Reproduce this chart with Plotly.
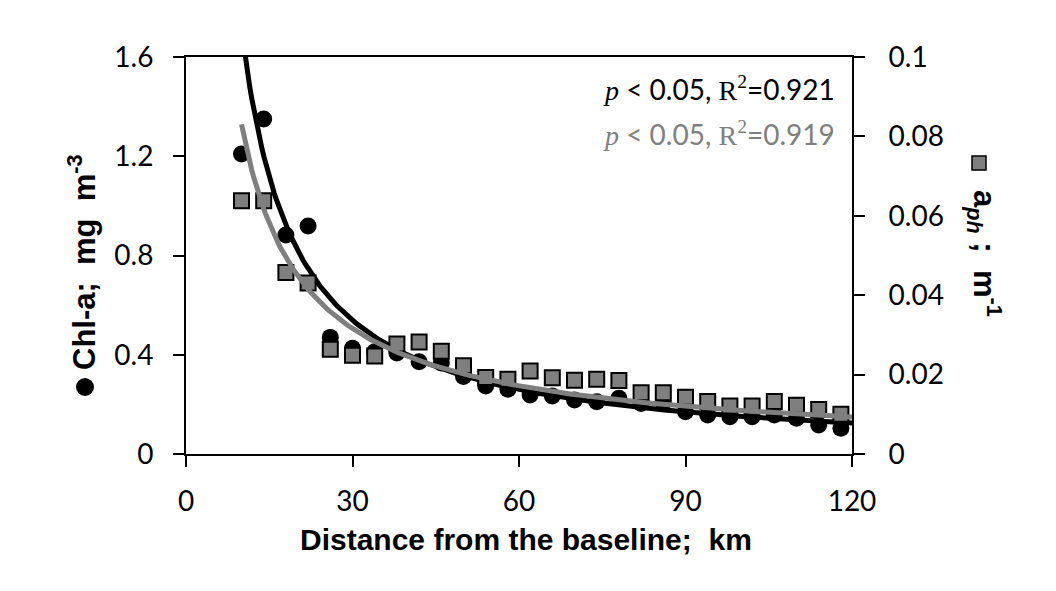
import numpy as np
import plotly.graph_objects as go

# ---- data ----
distance_km = [10, 14, 18, 22, 26, 30, 34, 38, 42, 46, 50, 54, 58, 62,
               66, 70, 74, 78, 82, 86, 90, 94, 98, 102, 106, 110, 114, 118]
chl_a = [1.209, 1.350, 0.883, 0.919, 0.470, 0.426, 0.412, 0.407, 0.372, 0.367,
         0.312, 0.274, 0.261, 0.238, 0.234, 0.218, 0.211, 0.225, 0.204, 0.206,
         0.170, 0.157, 0.150, 0.150, 0.157, 0.144, 0.117, 0.104]
a_ph = [0.0638, 0.0638, 0.0457, 0.0431, 0.0264, 0.0249, 0.0247, 0.0277, 0.0282,
        0.0259, 0.0222, 0.0193, 0.0188, 0.0209, 0.0192, 0.0186, 0.0188, 0.0185,
        0.0154, 0.0154, 0.0143, 0.0132, 0.0121, 0.0121, 0.0132, 0.0123, 0.0112,
        0.0100]
x_ticks = [0, 30, 60, 90, 120]
y1_ticks = [0, 0.4, 0.8, 1.2, 1.6]
y1_labels = ["0", "0.4", "0.8", "1.2", "1.6"]
y2_ticks = [0, 0.02, 0.04, 0.06, 0.08, 0.1]
y2_labels = ["0", "0.02", "0.04", "0.06", "0.08", "0.1"]
r2_chl = "0.921"
r2_aph = "0.919"

# power-law trendlines y = a * x^b, coefficients
chl_fit_a, chl_fit_b = 19.3, -1.052
aph_fit_a, aph_fit_b = 0.630, -0.880
fit_x_start, fit_x_end = 10, 120

xs = np.linspace(fit_x_start, fit_x_end, 300)

BLACK = "#000000"
GRAY = "#7f7f7f"
TICKFONT = dict(family="Lato", size=28, color="black")

fig = go.Figure()
fig.add_trace(go.Scatter(x=distance_km, y=chl_a, mode="markers",
                         marker=dict(symbol="circle", size=17, color=BLACK),
                         yaxis="y", showlegend=False))
fig.add_trace(go.Scatter(x=distance_km, y=a_ph, mode="markers",
                         marker=dict(symbol="square", size=15, color=GRAY,
                                     line=dict(color=BLACK, width=2)),
                         yaxis="y2", showlegend=False))
fig.add_trace(go.Scatter(x=xs, y=chl_fit_a * xs ** chl_fit_b, mode="lines",
                         line=dict(color=BLACK, width=5),
                         yaxis="y", showlegend=False))
fig.add_trace(go.Scatter(x=xs, y=aph_fit_a * xs ** aph_fit_b, mode="lines",
                         line=dict(color=GRAY, width=5),
                         yaxis="y2", showlegend=False))

axis_common = dict(showline=True, linecolor="black", linewidth=2,
                   ticks="outside", ticklen=11, tickwidth=2, tickcolor="black",
                   showgrid=False, zeroline=False, tickfont=TICKFONT)

fig.update_layout(
    width=1056, height=591,
    margin=dict(l=186, r=204, t=57, b=137),
    paper_bgcolor="white", plot_bgcolor="white",
    xaxis=dict(range=[0, 120], tickvals=x_ticks, mirror=True,
               ticklabelstandoff=10, **axis_common),
    yaxis=dict(range=[0, 1.6], tickvals=y1_ticks, ticktext=y1_labels,
               ticklabelstandoff=14, **axis_common),
    yaxis2=dict(range=[0, 0.1], tickvals=y2_ticks, ticktext=y2_labels,
                overlaying="y", side="right", ticklabelstandoff=18,
                **axis_common),
)

SERIF = "Liberation Serif"
ann_font = dict(family="Lato", size=28)
fig.add_annotation(
    xref="paper", yref="paper", x=0.9775, y=0.920, xanchor="right", yanchor="middle",
    showarrow=False, font=dict(color=BLACK, **ann_font),
    text=f'<span style="font-family:{SERIF}"><i>p</i></span> &lt; 0.05, '
         f'<span style="font-family:{SERIF}">R<sup>2</sup></span>={r2_chl}')
fig.add_annotation(
    xref="paper", yref="paper", x=0.9775, y=0.807, xanchor="right", yanchor="middle",
    showarrow=False, font=dict(color=GRAY, **ann_font),
    text=f'<span style="font-family:{SERIF}"><i>p</i></span> &lt; 0.05, '
         f'<span style="font-family:{SERIF}">R<sup>2</sup></span>={r2_aph}')

TITLEFONT = dict(family="Liberation Sans", size=30, color="black")
SIDEFONT = dict(family="Liberation Sans", size=31, color="black")
# x title
fig.add_annotation(xref="paper", yref="paper", x=0.511, y=-0.2166,
                   xanchor="center", yanchor="middle", showarrow=False,
                   font=TITLEFONT, text="<b>Distance from the baseline;  km</b>")
# left title
fig.add_annotation(xref="paper", yref="paper", x=(82 - 186) / 666, y=(454 - 262) / 397,
                   xanchor="center", yanchor="middle", showarrow=False, textangle=-90,
                   font=SIDEFONT, text="<b>Chl-a;  mg  m<sup>-3</sup></b>")
# right title
fig.add_annotation(xref="paper", yref="paper", x=(985 - 186) / 666, y=(454 - 253) / 397,
                   xanchor="center", yanchor="middle", showarrow=False, textangle=90,
                   font=SIDEFONT,
                   text="<b>a</b><b><i><sub>ph</sub></i></b><b> ;  m<sup>-1</sup></b>")

# legend-like symbols in the axis titles
fig.add_shape(type="circle", xref="paper", yref="paper",
              xsizemode="pixel", ysizemode="pixel",
              xanchor=(85 - 186) / 666, yanchor=(454 - 387) / 397,
              x0=-9, x1=9, y0=-9, y1=9,
              fillcolor=BLACK, line=dict(color=BLACK, width=0))
fig.add_shape(type="rect", xref="paper", yref="paper",
              xsizemode="pixel", ysizemode="pixel",
              xanchor=(979 - 186) / 666, yanchor=(454 - 163) / 397,
              x0=-7, x1=7, y0=-7, y1=7,
              fillcolor=GRAY, line=dict(color=BLACK, width=1.5))

fig.write_html("out.html")
